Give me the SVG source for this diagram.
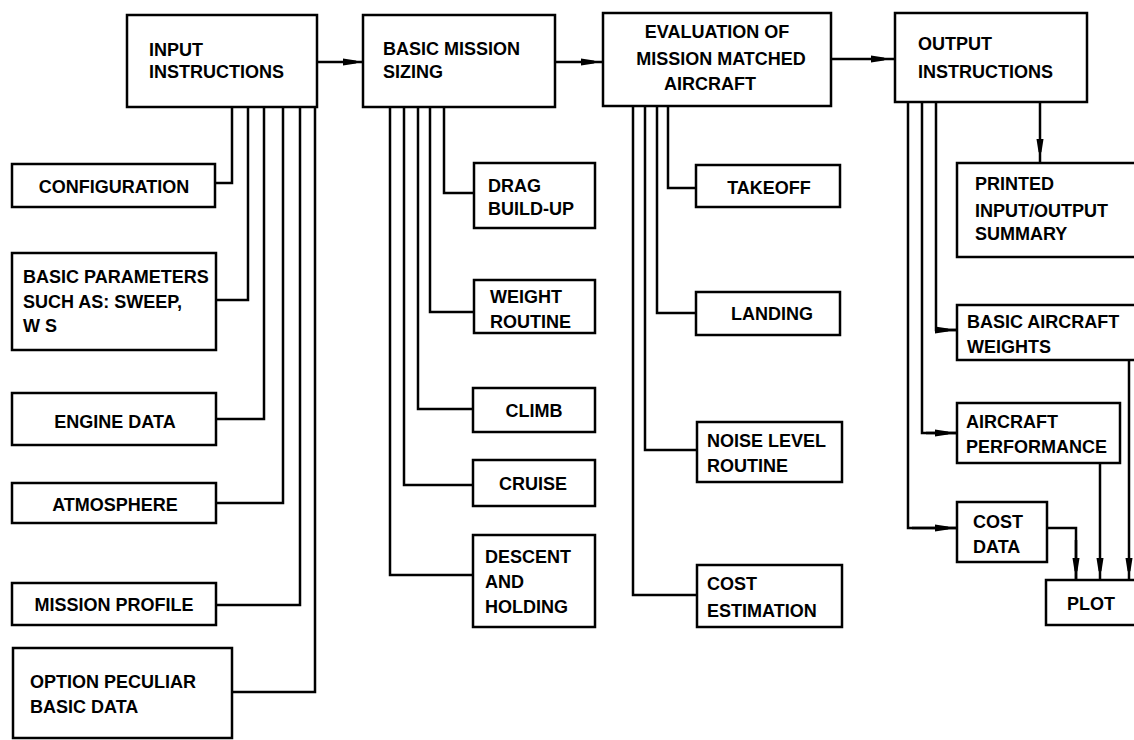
<svg xmlns="http://www.w3.org/2000/svg" width="1134" height="740" viewBox="0 0 1134 740">
<style>
  .box { fill: #ffffff; stroke: #000000; stroke-width: 2.5; }
  .lbl { font-family: "Liberation Sans", Arial, sans-serif; font-size: 18px; font-weight: bold; fill: #000000; }
  .mid { text-anchor: middle; }
  .conn { fill: none; stroke: #000000; stroke-width: 2.5; stroke-linejoin: miter; }
  .arr { marker-mid: url(#ah); }
</style>
<defs>
  <marker id="ah" markerUnits="userSpaceOnUse" markerWidth="16" markerHeight="10" refX="0" refY="0" viewBox="-14 -5 16 10" orient="auto" overflow="visible">
    <path d="M-13,-3.5 L0,-1.5 L1.5,0 L0,1.5 L-13,3.5 Z" fill="#000000"/>
  </marker>
</defs>
<rect width="1134" height="740" fill="#ffffff"/>

<g id="connectors">
  <!-- main chain -->
  <path class="conn arr" d="M317,62 H356 H363"/>
  <path class="conn arr" d="M555,62 H594 H603"/>
  <path class="conn arr" d="M831,59 H884 H895"/>
  <!-- input instructions stubs -->
  <path class="conn" d="M232,107 V183 H215"/>
  <path class="conn" d="M248,107 V300 H216"/>
  <path class="conn" d="M264,107 V419 H216"/>
  <path class="conn" d="M283,107 V503 H216"/>
  <path class="conn" d="M300,107 V605 H216"/>
  <path class="conn" d="M315,107 V692 H232"/>
  <!-- basic mission sizing stubs -->
  <path class="conn" d="M444,107 V193 H474"/>
  <path class="conn" d="M430,107 V312 H474"/>
  <path class="conn" d="M418,107 V409 H473"/>
  <path class="conn" d="M404,107 V485 H473"/>
  <path class="conn" d="M390,107 V575 H473"/>
  <!-- evaluation stubs -->
  <path class="conn" d="M668,106 V188 H696"/>
  <path class="conn" d="M657,106 V313 H696"/>
  <path class="conn" d="M645,106 V450 H697"/>
  <path class="conn" d="M633,106 V595 H697"/>
  <!-- output stubs -->
  <path class="conn arr" d="M1040,102 V152 V163"/>
  <path class="conn" d="M936,102 V330 H957"/>
  <path class="conn arr" d="M940,330 H948 H957"/>
  <path class="conn" d="M922,102 V433 H957"/>
  <path class="conn arr" d="M926,433 H948 H957"/>
  <path class="conn" d="M908,102 V528 H957"/>
  <path class="conn arr" d="M912,528 H948 H957"/>
  <!-- to plot -->
  <path class="conn" d="M1047,528 H1076 V580"/>
  <path class="conn arr" d="M1076,540 V571 V580"/>
  <path class="conn arr" d="M1100,463 V571 V580"/>
  <path class="conn arr" d="M1129,360 V571 V580"/>
</g>

<g id="input-instructions">
  <rect class="box" x="127" y="15" width="190" height="92"/>
  <text class="lbl" x="149" y="56">INPUT</text>
  <text class="lbl" x="149" y="78">INSTRUCTIONS</text>
</g>
<g id="basic-mission-sizing">
  <rect class="box" x="363" y="15" width="192" height="92"/>
  <text class="lbl" x="383" y="55">BASIC MISSION</text>
  <text class="lbl" x="383" y="78">SIZING</text>
</g>
<g id="evaluation">
  <rect class="box" x="603" y="13" width="228" height="93"/>
  <text class="lbl mid" x="717" y="38">EVALUATION OF</text>
  <text class="lbl mid" x="721" y="65">MISSION MATCHED</text>
  <text class="lbl mid" x="710" y="90">AIRCRAFT</text>
</g>
<g id="output-instructions">
  <rect class="box" x="895" y="13" width="192" height="89"/>
  <text class="lbl" x="918" y="50">OUTPUT</text>
  <text class="lbl" x="918" y="78">INSTRUCTIONS</text>
</g>

<g id="configuration">
  <rect class="box" x="12" y="164" width="203" height="43"/>
  <text class="lbl mid" x="114" y="193">CONFIGURATION</text>
</g>
<g id="basic-parameters">
  <rect class="box" x="12" y="253" width="204" height="97"/>
  <text class="lbl" x="23" y="283">BASIC PARAMETERS</text>
  <text class="lbl" x="23" y="308">SUCH AS: SWEEP,</text>
  <text class="lbl" x="23" y="332">W S</text>
</g>
<g id="engine-data">
  <rect class="box" x="12" y="393" width="204" height="52"/>
  <text class="lbl mid" x="115" y="428">ENGINE DATA</text>
</g>
<g id="atmosphere">
  <rect class="box" x="12" y="483" width="204" height="40"/>
  <text class="lbl mid" x="115" y="511">ATMOSPHERE</text>
</g>
<g id="mission-profile">
  <rect class="box" x="12" y="583" width="204" height="42"/>
  <text class="lbl mid" x="114" y="611">MISSION PROFILE</text>
</g>
<g id="option-peculiar">
  <rect class="box" x="13" y="648" width="219" height="90"/>
  <text class="lbl" x="30" y="688">OPTION PECULIAR</text>
  <text class="lbl" x="30" y="713">BASIC DATA</text>
</g>

<g id="drag-build-up">
  <rect class="box" x="474" y="163" width="121" height="65"/>
  <text class="lbl" x="488" y="192">DRAG</text>
  <text class="lbl" x="488" y="215">BUILD-UP</text>
</g>
<g id="weight-routine">
  <rect class="box" x="474" y="280" width="121" height="53"/>
  <text class="lbl" x="490" y="303">WEIGHT</text>
  <text class="lbl" x="490" y="328">ROUTINE</text>
</g>
<g id="climb">
  <rect class="box" x="473" y="388" width="122" height="44"/>
  <text class="lbl mid" x="534" y="417">CLIMB</text>
</g>
<g id="cruise">
  <rect class="box" x="473" y="460" width="122" height="46"/>
  <text class="lbl mid" x="533" y="490">CRUISE</text>
</g>
<g id="descent-holding">
  <rect class="box" x="473" y="535" width="122" height="92"/>
  <text class="lbl" x="485" y="563">DESCENT</text>
  <text class="lbl" x="485" y="588">AND</text>
  <text class="lbl" x="485" y="613">HOLDING</text>
</g>

<g id="takeoff">
  <rect class="box" x="696" y="165" width="144" height="42"/>
  <text class="lbl mid" x="769" y="194">TAKEOFF</text>
</g>
<g id="landing">
  <rect class="box" x="696" y="292" width="144" height="43"/>
  <text class="lbl mid" x="772" y="320">LANDING</text>
</g>
<g id="noise-level">
  <rect class="box" x="697" y="422" width="145" height="60"/>
  <text class="lbl" x="707" y="447">NOISE LEVEL</text>
  <text class="lbl" x="707" y="472">ROUTINE</text>
</g>
<g id="cost-estimation">
  <rect class="box" x="697" y="565" width="145" height="62"/>
  <text class="lbl" x="707" y="590">COST</text>
  <text class="lbl" x="707" y="617">ESTIMATION</text>
</g>

<g id="printed-summary">
  <rect class="box" x="957" y="163" width="190" height="94"/>
  <text class="lbl" x="975" y="190">PRINTED</text>
  <text class="lbl" x="975" y="217">INPUT/OUTPUT</text>
  <text class="lbl" x="975" y="240">SUMMARY</text>
</g>
<g id="basic-aircraft-weights">
  <rect class="box" x="957" y="305" width="190" height="55"/>
  <text class="lbl" x="967" y="328">BASIC AIRCRAFT</text>
  <text class="lbl" x="967" y="353">WEIGHTS</text>
</g>
<g id="aircraft-performance">
  <rect class="box" x="957" y="403" width="163" height="60"/>
  <text class="lbl" x="966" y="428">AIRCRAFT</text>
  <text class="lbl" x="966" y="453">PERFORMANCE</text>
</g>
<g id="cost-data">
  <rect class="box" x="957" y="502" width="90" height="60"/>
  <text class="lbl" x="973" y="528">COST</text>
  <text class="lbl" x="973" y="553">DATA</text>
</g>
<g id="plot">
  <rect class="box" x="1046" y="580" width="100" height="45"/>
  <text class="lbl" x="1067" y="610">PLOT</text>
</g>
</svg>
